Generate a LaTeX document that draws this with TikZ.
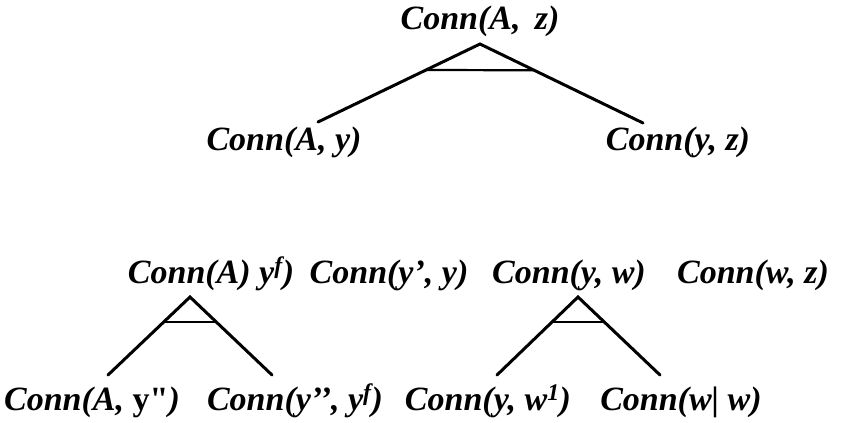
\documentclass[tikz,border=0pt]{standalone}
\usepackage{fontspec}
\setmainfont{Liberation Serif}
\newfontfamily\rawserif{Liberation Serif}[Ligatures=TeXOff]
\usetikzlibrary{calc}
\begin{document}
\begin{tikzpicture}[x=1pt,y=-1pt,
  lbl/.style={anchor=base,inner sep=0pt,font=\fontsize{34}{40}\selectfont\bfseries\itshape},
  branch/.style={line width=3pt,line cap=round},
  bar/.style={line width=2.2pt}]
\useasboundingbox (0,0) rectangle (847,423);

% upper tree
\node[lbl] (az) at (480,29) {Conn(A,\, z)};
\node[lbl] (ay) at (284,150) {Conn(A, y)};
\node[lbl] (yz) at (678,150) {Conn(y, z)};
\coordinate (t0) at (480,44);
\coordinate (t0l) at (318,122);
\coordinate (t0r) at (643,123);
\draw[branch] (t0l) -- (t0) -- (t0r);
\draw[bar] ($(t0)!0.333!(t0l)$) -- ($(t0)!0.333!(t0r)$);

% middle row
\node[lbl] (ayf) at (211,283) {Conn(A) y\textsuperscript{f})};
\node[lbl] (ypy) at (389,283) {Conn(y’, y)};
\node[lbl] (yw)  at (569,283) {Conn(y, w)};
\node[lbl] (wz)  at (753,283) {Conn(w, z)};

% lower left tree
\coordinate (t1) at (190,297);
\coordinate (t1l) at (108,375);
\coordinate (t1r) at (272,375);
\draw[branch] (t1l) -- (t1) -- (t1r);
\draw[bar] ($(t1)!0.32!(t1l)$) -- ($(t1)!0.32!(t1r)$);

% lower right tree
\coordinate (t2) at (578,297);
\coordinate (t2l) at (497,375);
\coordinate (t2r) at (660,375);
\draw[branch] (t2l) -- (t2) -- (t2r);
\draw[bar] ($(t2)!0.32!(t2l)$) -- ($(t2)!0.32!(t2r)$);

% bottom row
\node[lbl] (ayy) at (92,410)  {Conn(A, {\rawserif\upshape y"})};
\node[lbl] (yyf) at (295,410) {Conn(y’’, y\textsuperscript{f})};
\node[lbl] (yw1) at (488,410) {Conn(y, w\textsuperscript{1})};
\node[lbl] (ww)  at (681,410) {Conn(w| w)};
\end{tikzpicture}
\end{document}
